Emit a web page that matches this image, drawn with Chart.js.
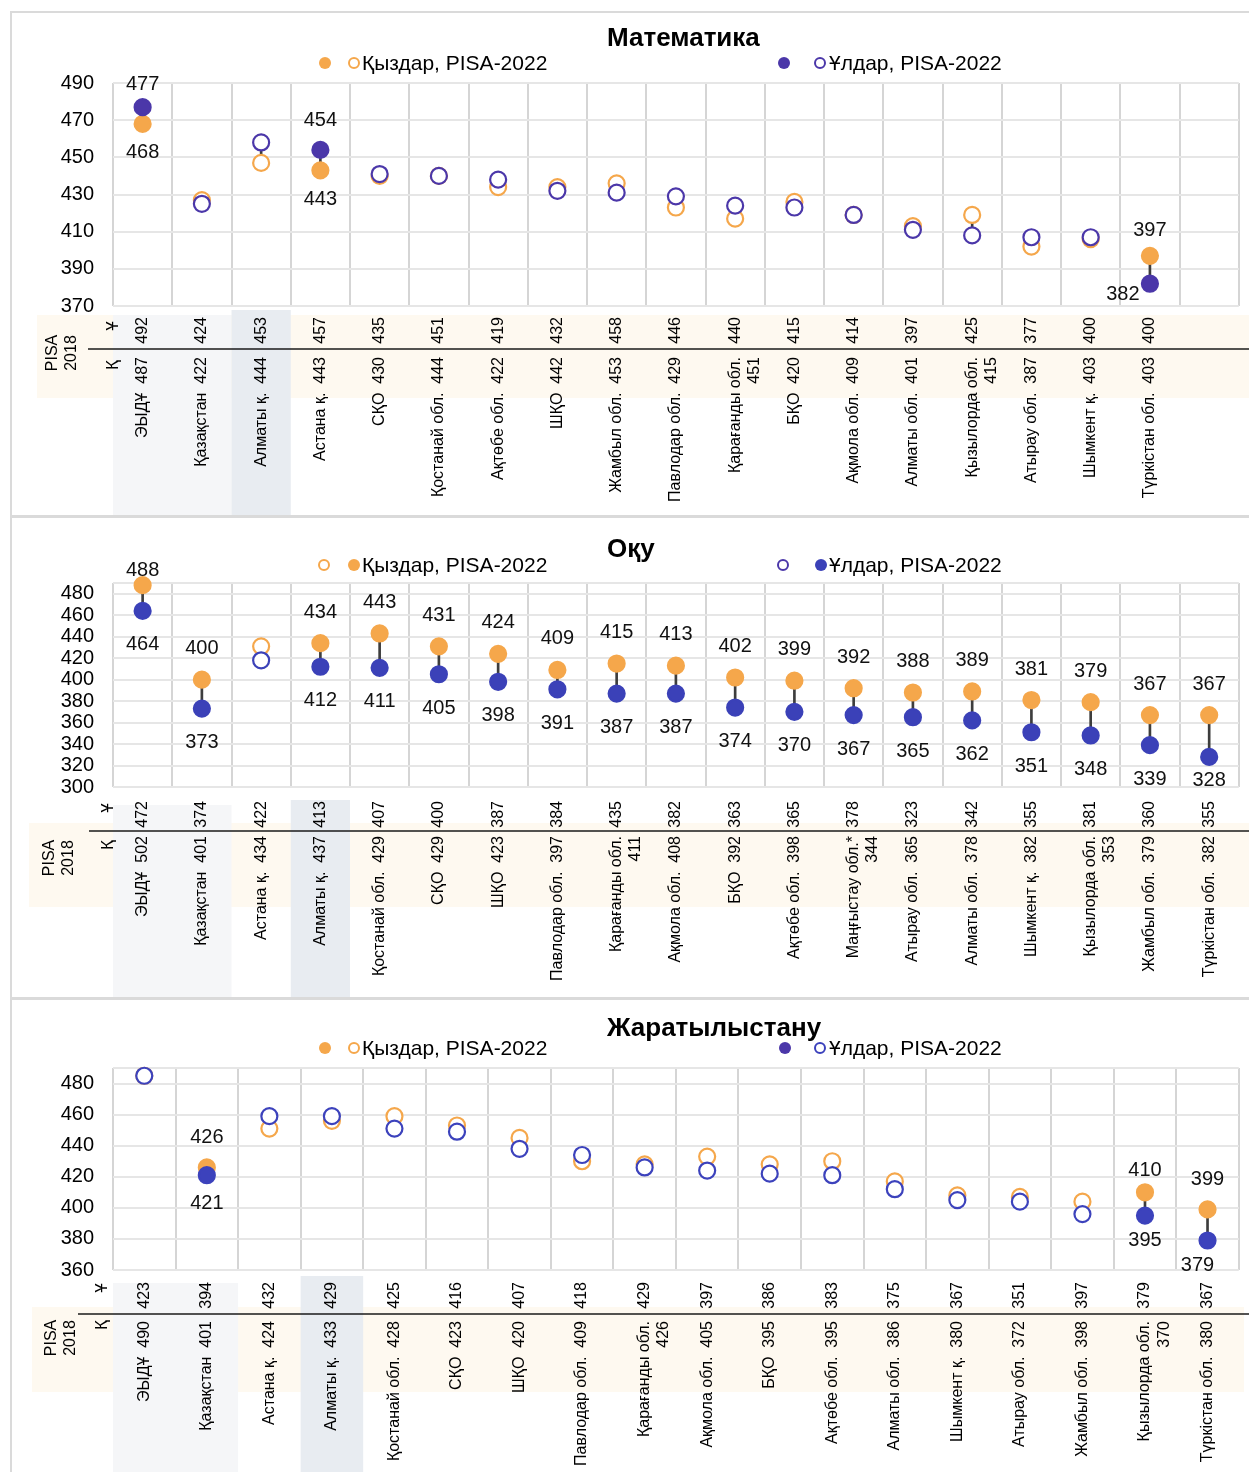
<!DOCTYPE html>
<html>
<head>
<meta charset="utf-8">
<script src="https://cdn.jsdelivr.net/npm/chart.js@4.4.0/dist/chart.umd.min.js"></script>
<style>
  body { margin: 0; background: #fff; width: 1249px; height: 1472px; overflow: hidden; position: relative;
         font-family: "Liberation Sans", Arial, sans-serif; color: #000; }
  .panel { position: absolute; left: 10px; width: 1260px; border: 2px solid #dadada; box-sizing: border-box;
           pointer-events: none; z-index: 2; }
  canvas { position: absolute; left: 0; }
  .title { position: absolute; left: 607px; font-weight: bold; font-size: 26px; line-height: 30px; z-index: 3; }
  .legend { position: absolute; height: 26px; display: flex; align-items: center; font-size: 21px;
            white-space: nowrap; z-index: 3; }
  .dot { width: 12px; height: 12px; border-radius: 50%; box-sizing: border-box; display: inline-block; }
</style>
</head>
<body>

<div class="panel" style="top:11px;height:506px"></div>
<div class="panel" style="top:516px;height:483px"></div>
<div class="panel" style="top:998px;height:480px"></div>

<canvas id="math" width="1249" height="515" style="top:0"></canvas>
<canvas id="read" width="1249" height="480" style="top:517px"></canvas>
<canvas id="sci" width="1249" height="473" style="top:999px"></canvas>

<div class="title" style="top:22px">Математика</div>
<div class="legend" style="left:319px;top:50px">
  <span class="dot" style="background:#F5A74B"></span>
  <span class="dot" style="border:2px solid #F5A74B;margin-left:17px"></span>
  <span style="margin-left:2px">Қыздар, PISA-2022</span>
</div>
<div class="legend" style="left:778px;top:50px">
  <span class="dot" style="background:#4B37A9"></span>
  <span class="dot" style="border:2px solid #4B37A9;margin-left:24px"></span>
  <span style="margin-left:3px">Ұлдар, PISA-2022</span>
</div>

<div class="title" style="top:533px">Оқу</div>
<div class="legend" style="left:318px;top:552px">
  <span class="dot" style="border:2px solid #F5A74B"></span>
  <span class="dot" style="background:#F5A74B;margin-left:18px"></span>
  <span style="margin-left:2px">Қыздар, PISA-2022</span>
</div>
<div class="legend" style="left:777px;top:552px">
  <span class="dot" style="border:2px solid #4B37A9"></span>
  <span class="dot" style="background:#3B41B8;margin-left:26px"></span>
  <span style="margin-left:2px">Ұлдар, PISA-2022</span>
</div>

<div class="title" style="top:1012px">Жаратылыстану</div>
<div class="legend" style="left:319px;top:1035px">
  <span class="dot" style="background:#F5A74B"></span>
  <span class="dot" style="border:2px solid #F5A74B;margin-left:17px"></span>
  <span style="margin-left:2px">Қыздар, PISA-2022</span>
</div>
<div class="legend" style="left:779px;top:1035px">
  <span class="dot" style="background:#4B37A9"></span>
  <span class="dot" style="border:2px solid #3B41BC;margin-left:23px"></span>
  <span style="margin-left:3px">Ұлдар, PISA-2022</span>
</div>

<script>
// Математика (last slot is empty in the original)
const mathRegions = ['ЭЫДҰ', 'Қазақстан', 'Алматы қ.', 'Астана қ.', 'СҚО', 'Қостанай обл.', 'Ақтөбе обл.', 'ШҚО',
  'Жамбыл обл.', 'Павлодар обл.', 'Қарағанды обл.', 'БҚО', 'Ақмола обл.', 'Алматы обл.', 'Қызылорда обл.',
  'Атырау обл.', 'Шымкент қ.', 'Түркістан обл.', ''];
const mathGirls = [468, 427, 447, 443, 440, 440, 434, 434, 436, 423, 417, 426, 419, 413, 419, 402, 406, 397, null];
const mathBoys = [477, 425, 458, 454, 441, 440, 438, 432, 431, 429, 424, 423, 419, 411, 408, 407, 407, 382, null];
const mathSig = [1, 0, 0, 1, 0, 0, 0, 0, 0, 0, 0, 0, 0, 0, 0, 0, 0, 1, 0];
const mathGirls2018 = [487, 422, 444, 443, 430, 444, 422, 442, 453, 429, 451, 420, 409, 401, 415, 387, 403, 403, null];
const mathBoys2018 = [492, 424, 453, 457, 435, 451, 419, 432, 458, 446, 440, 415, 414, 397, 425, 377, 400, 400, null];
const mathTicks = [370, 390, 410, 430, 450, 470, 490];

// Оқу
const readRegions = ['ЭЫДҰ', 'Қазақстан', 'Астана қ.', 'Алматы қ.', 'Қостанай обл.', 'СҚО', 'ШҚО', 'Павлодар обл.',
  'Қарағанды обл.', 'Ақмола обл.', 'БҚО', 'Ақтөбе обл.', 'Маңғыстау обл.*', 'Атырау обл.', 'Алматы обл.',
  'Шымкент қ.', 'Қызылорда обл.', 'Жамбыл обл.', 'Түркістан обл.'];
const readGirls = [488, 400, 431, 434, 443, 431, 424, 409, 415, 413, 402, 399, 392, 388, 389, 381, 379, 367, 367];
const readBoys = [464, 373, 418, 412, 411, 405, 398, 391, 387, 387, 374, 370, 367, 365, 362, 351, 348, 339, 328];
const readSig = [1, 1, 0, 1, 1, 1, 1, 1, 1, 1, 1, 1, 1, 1, 1, 1, 1, 1, 1];
const readGirls2018 = [502, 401, 434, 437, 429, 429, 423, 397, 411, 408, 392, 398, 344, 365, 378, 382, 353, 379, 382];
const readBoys2018 = [472, 374, 422, 413, 407, 400, 387, 384, 435, 382, 363, 365, 378, 323, 342, 355, 381, 360, 355];
const readTicks = [300, 320, 340, 360, 380, 400, 420, 440, 460, 480];

// Жаратылыстану
const sciRegions = ['ЭЫДҰ', 'Қазақстан', 'Астана қ.', 'Алматы қ.', 'Қостанай обл.', 'СҚО', 'ШҚО', 'Павлодар обл.',
  'Қарағанды обл.', 'Ақмола обл.', 'БҚО', 'Ақтөбе обл.', 'Алматы обл.', 'Шымкент қ.', 'Атырау обл.',
  'Жамбыл обл.', 'Қызылорда обл.', 'Түркістан обл.'];
const sciGirls = [485, 426, 451, 456, 459, 453, 445, 430, 428, 433, 428, 430, 417, 408, 407, 404, 410, 399];
const sciBoys = [485, 421, 459, 459, 451, 449, 438, 434, 426, 424, 422, 421, 412, 405, 404, 396, 395, 379];
const sciSig = [0, 1, 0, 0, 0, 0, 0, 0, 0, 0, 0, 0, 0, 0, 0, 0, 1, 1];
const sciGirls2018 = [490, 401, 424, 433, 428, 423, 420, 409, 426, 405, 395, 395, 386, 380, 372, 398, 370, 380];
const sciBoys2018 = [423, 394, 432, 429, 425, 416, 407, 418, 429, 397, 386, 383, 375, 367, 351, 397, 379, 367];
const sciTicks = [360, 380, 400, 420, 440, 460, 480];

const wrapped = ['Қарағанды обл.', 'Қызылорда обл.', 'Маңғыстау обл.*'];
const orange = '#F5A74B';
const narrowFont = '"Liberation Sans Narrow", "Arial Narrow", "Liberation Sans", Arial, sans-serif';
const tableFont = '"Liberation Sans", Arial, sans-serif';

function tickLabels(regions, girls18) {
  return regions.map((r, i) => {
    if (!r) return '';
    if (wrapped.includes(r)) return [r, String(girls18[i])];
    return r + '  ' + girls18[i];
  });
}

function rotText(ctx, txt, x, y, align) {
  ctx.save();
  ctx.translate(x, y);
  ctx.rotate(-Math.PI / 2);
  ctx.textAlign = align;
  ctx.fillText(txt, 0, 0);
  ctx.restore();
}

// band, shaded columns and the 2018 boys row under the axis
const pisaTable = {
  id: 'pisaTable',
  beforeDraw(chart, args, o) {
    const ctx = chart.ctx;
    const x = chart.scales.x;
    const half = (x.getPixelForValue(1) - x.getPixelForValue(0)) / 2;
    ctx.save();
    ctx.fillStyle = '#fef9f0';
    ctx.fillRect(o.band[0], o.band[1], o.band[2] - o.band[0], o.band[3] - o.band[1]);
    ctx.fillStyle = '#f5f6f8';
    let x0 = x.getPixelForValue(o.light[0]) - half;
    let x1 = x.getPixelForValue(o.light[1]) + half;
    ctx.fillRect(x0, o.lightTop, x1 - x0, chart.height - o.lightTop);
    ctx.fillStyle = '#e8ecf1';
    x0 = x.getPixelForValue(o.blue) - half;
    ctx.fillRect(x0, o.blueTop, half * 2, chart.height - o.blueTop);
    ctx.restore();
  },
  afterDraw(chart, args, o) {
    const ctx = chart.ctx;
    const x = chart.scales.x;
    ctx.save();
    ctx.fillStyle = '#000';
    ctx.textBaseline = 'middle';
    ctx.font = '16px ' + tableFont;
    o.boys18.forEach((v, i) => {
      if (v == null) return;
      rotText(ctx, String(v), x.getPixelForValue(i), o.valueTop, 'right');
    });
    ctx.font = '17px ' + tableFont;
    rotText(ctx, 'Ұ', o.rowU[0], o.rowU[1], 'center');
    rotText(ctx, 'Қ', o.rowK[0], o.rowK[1], 'center');
    ctx.font = '16px ' + tableFont;
    rotText(ctx, 'PISA', o.pisa[0], o.pisa[1], 'center');
    rotText(ctx, '2018', o.pisa[0] + 19, o.pisa[1], 'center');
    ctx.strokeStyle = '#1a1a1a';
    ctx.lineWidth = 1.5;
    ctx.beginPath();
    ctx.moveTo(o.sepX, o.sepY);
    ctx.lineTo(chart.width, o.sepY);
    ctx.stroke();
    ctx.restore();
  }
};

// value labels for the filled (significant) pairs
const pairLabels = {
  id: 'pairLabels',
  afterDatasetsDraw(chart, args, o) {
    const ctx = chart.ctx;
    const boyPts = chart.getDatasetMeta(0).data;
    const girlPts = chart.getDatasetMeta(1).data;
    ctx.save();
    ctx.font = '20px ' + narrowFont;
    ctx.fillStyle = '#111';
    ctx.textAlign = 'center';
    ctx.textBaseline = 'middle';
    o.sig.forEach((s, i) => {
      if (!s) return;
      const b = o.boys[i], g = o.girls[i];
      [[boyPts[i], b, 'b', b >= g], [girlPts[i], g, 'g', g > b]].forEach(([pt, v, who, up]) => {
        const n = o.nudge[i + who] || [0, 0];
        ctx.fillText(String(v), pt.x + n[0], pt.y + (up ? o.above : o.below) + n[1]);
      });
    });
    ctx.restore();
  }
};

function drawPanel(id, p) {
  const yTicks = p.ticks.includes(490) ? p.ticks : p.ticks.concat([490]);
  return new Chart(document.getElementById(id), {
    type: 'line',
    data: {
      labels: tickLabels(p.regions, p.girls18),
      datasets: [
        {
          label: 'Ұлдар, PISA-2022', data: p.boys, order: 1, showLine: false, clip: false,
          pointRadius: 8, pointHoverRadius: 8, pointBorderWidth: 2.2,
          pointBorderColor: p.boyColor,
          pointBackgroundColor: c => p.sig[c.dataIndex] ? p.boyColor : '#fff'
        },
        {
          label: 'Қыздар, PISA-2022', data: p.girls, order: 2, showLine: false, clip: false,
          pointRadius: 8, pointHoverRadius: 8, pointBorderWidth: 2.2,
          pointBorderColor: orange,
          pointBackgroundColor: c => p.sig[c.dataIndex] ? orange : '#fff'
        },
        {
          type: 'bar', label: 'gap', order: 3, barThickness: 2, backgroundColor: '#3d3d3d',
          data: p.girls.map((g, i) => g == null ? null : [g, p.boys[i]])
        }
      ]
    },
    options: {
      responsive: false,
      animation: false,
      devicePixelRatio: 1,
      events: [],
      layout: { padding: { top: p.box.top, right: 7, left: 0, bottom: 0 } },
      plugins: {
        legend: { display: false },
        tooltip: { enabled: false },
        pisaTable: p.table,
        pairLabels: { sig: p.sig, boys: p.boys, girls: p.girls, above: p.above, below: p.below, nudge: p.nudge }
      },
      scales: {
        x: {
          offset: true,
          grid: { offset: true, color: '#d5d5d5', lineWidth: 2, drawTicks: false },
          border: { display: false },
          ticks: {
            autoSkip: false, minRotation: 90, maxRotation: 90, padding: p.box.labelGap,
            color: '#000', font: { family: tableFont, size: 16 }
          },
          afterFit: s => {
            s.height = p.box.height - p.box.bottom;
            s.paddingLeft = 0;
            s.paddingRight = 0;
          }
        },
        y: {
          min: p.ticks[0], max: 490,
          grid: { color: '#e6e6e6', lineWidth: 2, drawTicks: false },
          border: { display: false },
          afterBuildTicks: s => { s.ticks = yTicks.map(v => ({ value: v })); },
          ticks: {
            autoSkip: false, padding: 19, color: '#000', font: { family: narrowFont, size: 20 },
            callback: v => p.ticks.includes(v) ? String(v) : ''
          },
          afterFit: s => { s.width = 113; }
        }
      }
    },
    plugins: [pisaTable, pairLabels]
  });
}

drawPanel('math', {
  regions: mathRegions, girls: mathGirls, boys: mathBoys, sig: mathSig, girls18: mathGirls2018,
  ticks: mathTicks, boyColor: '#4B37A9',
  box: { top: 83, bottom: 306, height: 515, labelGap: 51 },
  above: -29, below: 29,
  nudge: { '0b': [0, 6], '17g': [0, 4], '17b': [-27, -18] },
  table: { boys18: mathBoys2018, valueTop: 317, band: [37, 315, 1249, 398], sepY: 349, sepX: 88,
    rowU: [113, 326], rowK: [113, 365], pisa: [53, 353], light: [0, 1], lightTop: 315, blue: 2, blueTop: 310 }
});

drawPanel('read', {
  regions: readRegions, girls: readGirls, boys: readBoys, sig: readSig, girls18: readGirls2018,
  ticks: readTicks, boyColor: '#3B41B8',
  box: { top: 66, bottom: 270, height: 480, labelGap: 49 },
  above: -31, below: 34,
  nudge: { '0g': [0, 16], '18b': [0, -10] },
  table: { boys18: readBoys2018, valueTop: 284, band: [29, 306, 1249, 390], sepY: 314, sepX: 89,
    rowU: [108, 291], rowK: [108, 328], pisa: [50, 341], light: [0, 1], lightTop: 288, blue: 3, blueTop: 283 }
});

drawPanel('sci', {
  regions: sciRegions, girls: sciGirls, boys: sciBoys, sig: sciSig, girls18: sciGirls2018,
  ticks: sciTicks, boyColor: '#3C42BC',
  box: { top: 69, bottom: 271, height: 473, labelGap: 51 },
  above: -30, below: 28,
  nudge: { '16g': [0, 8], '16b': [0, -3], '17b': [-10, -3] },
  table: { boys18: sciBoys2018, valueTop: 283, band: [32, 308, 1244, 393], sepY: 315, sepX: 78,
    rowU: [102, 289], rowK: [102, 326], pisa: [52, 339], light: [0, 1], lightTop: 284, blue: 3, blueTop: 277 }
});
</script>
</body>
</html>
